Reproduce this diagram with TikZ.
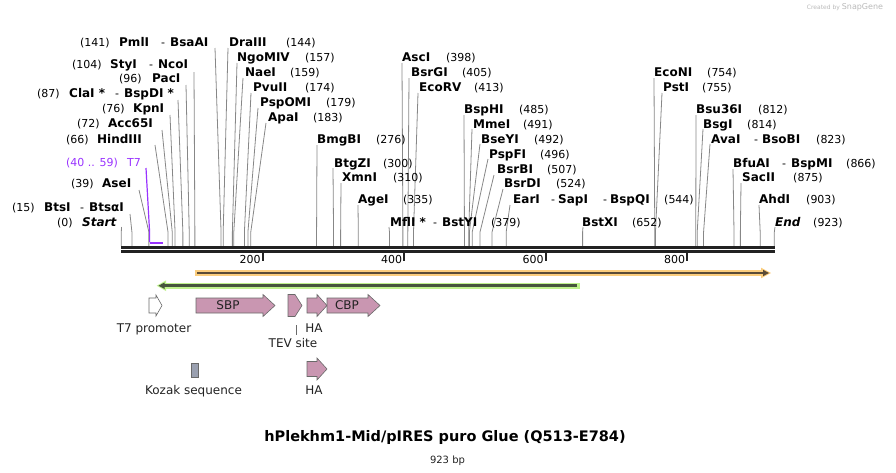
\documentclass[tikz,border=0pt]{standalone}
\usepackage{fontspec}
\setmainfont{DejaVu Sans}
\usetikzlibrary{arrows.meta}
\definecolor{leadgray}{RGB}{135,135,135}
\definecolor{t7purple}{RGB}{153,51,255}
\definecolor{featpink}{RGB}{201,150,177}
\definecolor{featedge}{RGB}{105,105,105}
\definecolor{kozakc}{RGB}{154,160,176}
\definecolor{orglow}{RGB}{251,205,125}
\definecolor{grglow}{RGB}{190,242,140}
\definecolor{ordark}{RGB}{90,75,55}
\definecolor{grdark}{RGB}{70,85,60}
\definecolor{bbc}{RGB}{34,34,34}
\newcommand\lbltxt[5]{\node[#1] (#2) at (#3,#4+4.3) {#5};}
\newcommand\leadline[4]{\coordinate (lt#1) at (#2,#3); \coordinate (ls#1) at ({121.3+0.7075*#4},246); \draw[leader] (lt#1) -- (ls#1 |- bend) -- (ls#1);}
\begin{document}
\begin{tikzpicture}[x=1pt,y=-1pt,
  num/.style={anchor=base west,inner sep=0pt,font=\fontsize{11}{13}\selectfont},
  enz/.style={anchor=base west,inner sep=0pt,font=\fontsize{12}{14}\selectfont\bfseries},
  pur/.style={anchor=base west,inner sep=0pt,text=t7purple,font=\fontsize{11}{13}\selectfont},
  flab/.style={anchor=base,inner sep=0pt,text=bbc,font=\fontsize{12}{14}\selectfont},
  leader/.style={draw=leadgray,line width=0.8pt},
  feat/.style={draw=featedge,fill=featpink,line width=0.6pt,line join=miter}]
\useasboundingbox (0,0) rectangle (896,472);
\coordinate (bend) at (0,232);

% ---------- leader lines ----------
\leadline{1}{215}{48}{141}
\leadline{2}{228}{48}{144}
\leadline{3}{194}{72}{104}
\leadline{4}{237}{63}{157}
\leadline{5}{186}{85}{96}
\leadline{6}{243}{78}{159}
\leadline{7}{178}{100}{87}
\leadline{8}{251}{93}{174}
\leadline{9}{170}{115}{76}
\leadline{10}{258}{108}{179}
\leadline{11}{162}{130}{72}
\leadline{12}{266}{123}{183}
\leadline{13}{155}{145}{66}
\leadline{15}{139}{190}{39}
\leadline{16}{130}{214}{15}
\leadline{17}{121.5}{227}{0}
\leadline{18}{317}{145}{276}
\leadline{19}{333}{168}{300}
\leadline{20}{341}{183}{310}
\leadline{21}{358}{205}{335}
\leadline{22}{389}{227}{379}
\leadline{23}{402}{63}{398}
\leadline{24}{409}{78}{405}
\leadline{25}{418}{93}{413}
\leadline{26}{464}{115}{485}
\leadline{27}{472}{129}{491}
\leadline{28}{480}{144}{492}
\leadline{29}{488}{159}{496}
\leadline{30}{494}{175}{507}
\leadline{31}{503}{189}{524}
\leadline{32}{510}{205}{544}
\leadline{33}{583}{227}{652}
\leadline{34}{654}{78}{754}
\leadline{35}{662}{93}{755}
\leadline{36}{696}{115}{812}
\leadline{37}{703}{129}{814}
\leadline{38}{710}{144}{823}
\leadline{39}{733}{169}{866}
\leadline{40}{741}{183}{875}
\leadline{41}{759}{205}{903}
\leadline{42}{775}{227}{923}

% T7 primer-like feature (purple)
\coordinate (lt14) at (146,168);
\coordinate (ls14) at ({121.3+0.7075*40},242);
\coordinate (le14) at ({121.3+0.7075*59},242.7);
\draw[t7purple,line width=1.2pt] (lt14) -- (ls14 |- bend) -- (ls14);
\draw[t7purple,line width=2.2pt] (ls14 |- le14) -- (le14);

% ---------- backbone ----------
\fill[bbc] (121,246) rectangle (775,249);
\fill[bbc] (121,250) rectangle (775,253);
\foreach \v in {200,400,600,800}{
  \draw[bbc,line width=2pt] ({121.3+0.7075*\v},253) -- ({121.3+0.7075*\v},260.5);
  \node[num,anchor=base east] (tick\v) at ({121.3+0.7075*\v-2},263.3) {\v};
}

% ---------- labels ----------
\lbltxt{num}{a1}{80}{42}{(141)} \lbltxt{enz}{a2}{119}{42}{PmlI} \lbltxt{num}{a3}{161}{42}{-} \lbltxt{enz}{a4}{170}{42}{BsaAI}
\lbltxt{enz}{b1}{229}{42}{DraIII} \lbltxt{num}{b2}{286}{42}{(144)}
\lbltxt{num}{c1}{72}{64}{(104)} \lbltxt{enz}{c2}{110}{64}{StyI} \lbltxt{num}{c3}{149}{64}{-} \lbltxt{enz}{c4}{158}{64}{NcoI}
\lbltxt{enz}{d1}{237}{57}{NgoMIV} \lbltxt{num}{d2}{305}{57}{(157)}
\lbltxt{num}{e1}{119}{78.5}{(96)} \lbltxt{enz}{e2}{152}{78.5}{PacI}
\lbltxt{enz}{f1}{245}{72}{NaeI} \lbltxt{num}{f2}{290}{72}{(159)}
\lbltxt{num}{g1}{37}{93}{(87)} \lbltxt{enz}{g2}{69}{93}{ClaI *} \lbltxt{num}{g3}{115}{93}{-} \lbltxt{enz}{g4}{124}{93}{BspDI *}
\lbltxt{enz}{h1}{253}{87}{PvuII} \lbltxt{num}{h2}{305}{87}{(174)}
\lbltxt{num}{i1}{102}{108}{(76)} \lbltxt{enz}{i2}{133}{108}{KpnI}
\lbltxt{enz}{j1}{260}{102}{PspOMI} \lbltxt{num}{j2}{326}{102}{(179)}
\lbltxt{num}{k1}{77}{123}{(72)} \lbltxt{enz}{k2}{108}{123}{Acc65I}
\lbltxt{enz}{l1}{268}{117}{ApaI} \lbltxt{num}{l2}{313}{117}{(183)}
\lbltxt{num}{m1}{66}{139}{(66)} \lbltxt{enz}{m2}{97}{139}{HindIII}
\lbltxt{pur}{o1}{66}{162}{(40 .. 59)} \lbltxt{pur}{o2}{127}{162}{T7}
\lbltxt{num}{p1}{71}{183}{(39)} \lbltxt{enz}{p2}{102}{183}{AseI}
\lbltxt{num}{q1}{12}{207}{(15)} \lbltxt{enz}{q2}{44}{207}{BtsI} \lbltxt{num}{q3}{80}{207}{-} \lbltxt{enz}{q4}{89}{207}{BtsαI}
\lbltxt{num}{r1}{57}{222}{(0)} \lbltxt{enz}{r2}{82}{222}{\textit{Start}}
\lbltxt{enz}{s1}{317}{139}{BmgBI} \lbltxt{num}{s2}{376}{139}{(276)}
\lbltxt{enz}{u1}{334}{163}{BtgZI} \lbltxt{num}{u2}{383}{163}{(300)}
\lbltxt{enz}{v1}{342}{177}{XmnI} \lbltxt{num}{v2}{393}{177}{(310)}
\lbltxt{enz}{w1}{358}{199}{AgeI} \lbltxt{num}{w2}{403}{199}{(335)}
\lbltxt{enz}{x1}{390}{222}{MflI *} \lbltxt{num}{x2}{433}{222}{-} \lbltxt{enz}{x3}{442}{222}{BstYI} \lbltxt{num}{x4}{491}{222}{(379)}
\lbltxt{enz}{y1}{402}{57}{AscI} \lbltxt{num}{y2}{446}{57}{(398)}
\lbltxt{enz}{z1}{411}{72}{BsrGI} \lbltxt{num}{z2}{462}{72}{(405)}
\lbltxt{enz}{A1}{419}{87}{EcoRV} \lbltxt{num}{A2}{474}{87}{(413)}
\lbltxt{enz}{B1}{464}{109}{BspHI} \lbltxt{num}{B2}{519}{109}{(485)}
\lbltxt{enz}{C1}{473}{124}{MmeI} \lbltxt{num}{C2}{523}{124}{(491)}
\lbltxt{enz}{D1}{481}{139}{BseYI} \lbltxt{num}{D2}{534}{139}{(492)}
\lbltxt{enz}{E1}{489}{154}{PspFI} \lbltxt{num}{E2}{540}{154}{(496)}
\lbltxt{enz}{F1}{497}{169}{BsrBI} \lbltxt{num}{F2}{547}{169}{(507)}
\lbltxt{enz}{G1}{504}{183}{BsrDI} \lbltxt{num}{G2}{556}{183}{(524)}
\lbltxt{enz}{H1}{513}{199}{EarI} \lbltxt{num}{H2}{551}{199}{-} \lbltxt{enz}{H3}{558}{199}{SapI} \lbltxt{num}{H4}{603}{199}{-} \lbltxt{enz}{H5}{610}{199}{BspQI} \lbltxt{num}{H6}{664}{199}{(544)}
\lbltxt{enz}{J1}{582}{222}{BstXI} \lbltxt{num}{J2}{632}{222}{(652)}
\lbltxt{enz}{K1}{654}{72}{EcoNI} \lbltxt{num}{K2}{707}{72}{(754)}
\lbltxt{enz}{M1}{663}{87}{PstI} \lbltxt{num}{M2}{702}{87}{(755)}
\lbltxt{enz}{N1}{696}{109}{Bsu36I} \lbltxt{num}{N2}{758}{109}{(812)}
\lbltxt{enz}{P1}{703}{124}{BsgI} \lbltxt{num}{P2}{747}{124}{(814)}
\lbltxt{enz}{Q1}{711}{139}{AvaI} \lbltxt{num}{Q2}{754}{139}{-} \lbltxt{enz}{Q3}{762}{139}{BsoBI} \lbltxt{num}{Q4}{816}{139}{(823)}
\lbltxt{enz}{R1}{733}{163}{BfuAI} \lbltxt{num}{R2}{782}{163}{-} \lbltxt{enz}{R3}{791}{163}{BspMI} \lbltxt{num}{R4}{846}{163}{(866)}
\lbltxt{enz}{S1}{742}{177}{SacII} \lbltxt{num}{S2}{793}{177}{(875)}
\lbltxt{enz}{T1}{759}{199}{AhdI} \lbltxt{num}{T2}{806}{199}{(903)}
\lbltxt{enz}{U1}{775}{222}{\textit{End}} \lbltxt{num}{U2}{813}{222}{(923)}

% ---------- ORF bars ----------
\fill[orglow] (195,270) rectangle (762,276);
\fill[orglow] (761,267.7) -- (771,273) -- (761,278.3) -- cycle;
\draw[ordark,line width=2.6pt] (197,273) -- (764,273);
\fill[ordark] (763,269.8) -- (769,273) -- (763,276.2) -- cycle;

\fill[grglow] (165,282.7) rectangle (580,288.7);
\fill[grglow] (166,280.4) -- (156.7,285.7) -- (166,291) -- cycle;
\draw[grdark,line width=2.6pt] (577,285.7) -- (163,285.7);
\fill[grdark] (164.5,282.5) -- (158.5,285.7) -- (164.5,288.9) -- cycle;

% ---------- features ----------
\draw[draw=featedge,fill=white,line width=0.6pt] (149,298) -- (156,298) -- (156,295) -- (162,305.5) -- (156,316) -- (156,313) -- (149,313) -- cycle;
\draw[feat] (196,298) -- (263,298) -- (263,294.5) -- (275,305.5) -- (263,316.5) -- (263,313) -- (196,313) -- cycle;
\draw[feat] (288,294.5) -- (295,294.5) -- (302,305.5) -- (295,316.5) -- (288,316.5) -- cycle;
\draw[feat] (307,298) -- (317,298) -- (317,294.5) -- (327,305.5) -- (317,316.5) -- (317,313) -- (307,313) -- cycle;
\draw[feat] (327,298) -- (368,298) -- (368,294.5) -- (380,305.5) -- (368,316.5) -- (368,313) -- (327,313) -- cycle;
\draw[draw=featedge,fill=kozakc,line width=0.6pt] (191,363) rectangle (198,377);
\draw[feat] (307,361.5) -- (317,361.5) -- (317,358) -- (327,369) -- (317,380) -- (317,376.5) -- (307,376.5) -- cycle;

\node[flab] (fSBP) at (228,309.8) {SBP};
\node[flab] (fCBP) at (347,309.8) {CBP};
\node[flab] (fT7) at (154,332.2) {T7 promoter};
\node[flab] (fHA1) at (314,332.2) {HA};
\node[flab] (fTEV) at (293,347.5) {TEV site};
\coordinate (tevtop) at (296,325);
\coordinate (tevbot) at (296,335);
\draw[draw=featedge,line width=0.6pt] (tevtop) -- (tevbot);
\node[flab] (fKoz) at (193.5,394.5) {Kozak sequence};
\node[flab] (fHA2) at (314,394.5) {HA};

% ---------- title ----------
\node[anchor=base,inner sep=0pt,font=\fontsize{14.5}{17}\selectfont\bfseries] (title) at (445,441.5) {hPlekhm1-Mid/pIRES puro Glue (Q513-E784)};
\node[anchor=base,inner sep=0pt,font=\fontsize{10}{12}\selectfont,text=bbc] (bp) at (447.5,463) {923 bp};
\node[anchor=base,inner sep=0pt,text=gray!55] (credit) at (845,9.5) {\fontsize{6}{7}\selectfont Created by \fontsize{8}{9}\selectfont SnapGene};
\end{tikzpicture}
\end{document}
